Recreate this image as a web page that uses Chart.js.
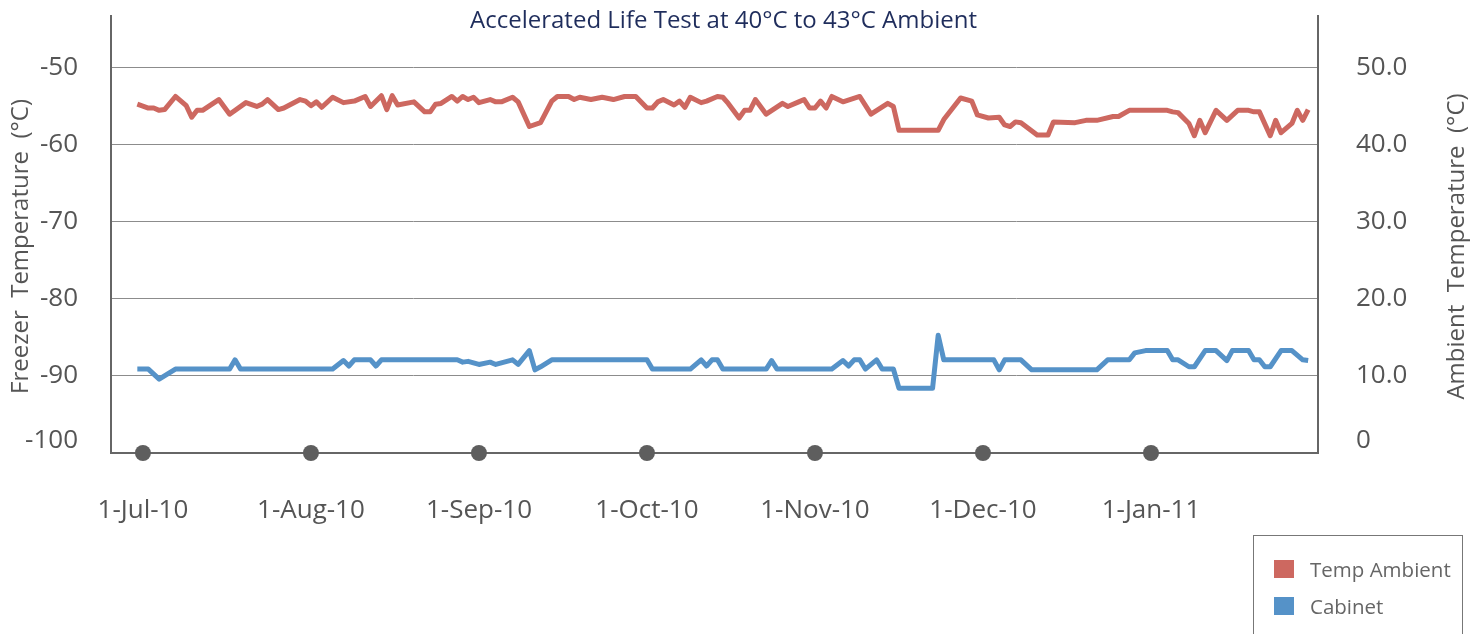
<!DOCTYPE html>
<html>
<head>
<meta charset="utf-8">
<script src="https://cdn.jsdelivr.net/npm/chart.js@4.4.1/dist/chart.umd.min.js"></script>
<style>
  html, body { margin: 0; padding: 0; background: #fff; }
  #wrap { position: relative; width: 1481px; height: 634px; overflow: hidden; }
  #legend {
    position: absolute; left: 1253px; top: 535px; width: 210px; height: 120px;
    border: 1px solid #777; box-sizing: border-box;
    font-family: 'Open Sans', sans-serif; font-size: 20.5px; color: #666;
  }
  #legend .item { position: absolute; left: 20px; display: flex; align-items: center; height: 24px; }
  #legend .sw { width: 20px; height: 18px; margin-right: 16px; }
</style>
</head>
<body>
<div id="wrap">
  <canvas id="chart" width="1481" height="634"></canvas>
  <div id="legend"></div>
</div>
<script>
// x axis: one tick per month, months drawn evenly spaced
var monthLabels = ['1-Jul-10', '1-Aug-10', '1-Sep-10', '1-Oct-10', '1-Nov-10', '1-Dec-10', '1-Jan-11'];
var monthStartDays = [0, 31, 62, 92, 123, 153, 184, 215];

var chartTitle = 'Accelerated Life Test at 40°C to 43°C Ambient';
var leftTitle = 'Freezer  Temperature  (°C)';
var rightTitle = 'Ambient  Temperature  (°C)';

var leftTicks = [-100, -90, -80, -70, -60, -50];
var rightTicks = [0, 10, 20, 30, 40, 50];

// days since 1-Jul-10
var ambientDays = [-1, 1, 2, 3, 4, 6, 8, 9, 10, 11, 14, 16, 19, 21, 22, 23, 25, 26, 29, 30,
	31, 32, 33, 35, 37, 39, 41, 42, 44, 45, 46, 47, 50, 52, 53, 54, 55, 57, 58, 59,
	60, 61, 62, 64, 65, 66, 68, 69, 71, 73, 75, 76, 78, 79, 80, 82, 84, 86, 88, 90,
	92, 93, 94, 95, 97, 98, 99, 100, 102, 103, 105, 106, 107, 109, 110, 111, 112, 114, 117, 118,
	120, 121, 122, 123, 124, 125, 126, 128, 131, 133, 136, 137, 138, 145, 146, 149, 151, 152, 154, 156,
	157, 158, 159, 160, 163, 165, 166, 170, 172, 174, 177, 178, 180, 187, 188, 189, 191, 192, 193, 194,
	196, 198, 200, 202, 203, 204, 206, 207, 208, 210, 211, 212, 213];
var ambientTemp = [45.3, 44.8, 44.8, 44.5, 44.6, 46.3, 45.1, 43.6, 44.5, 44.5, 45.9, 44.0, 45.5, 45.0, 45.3, 45.9, 44.6, 44.8, 45.9, 45.7,
	45.1, 45.6, 44.9, 46.2, 45.5, 45.7, 46.3, 45.0, 46.4, 44.6, 46.4, 45.2, 45.6, 44.3, 44.3, 45.3, 45.4, 46.3, 45.7, 46.3,
	45.9, 46.2, 45.5, 45.9, 45.6, 45.6, 46.2, 45.6, 42.4, 42.9, 45.7, 46.3, 46.3, 45.9, 46.2, 45.9, 46.2, 45.9, 46.3, 46.3,
	44.8, 44.8, 45.6, 45.9, 45.2, 45.7, 44.9, 46.2, 45.5, 45.7, 46.3, 46.2, 45.4, 43.5, 44.5, 44.5, 45.9, 44.0, 45.4, 45.0,
	45.6, 45.9, 44.8, 44.8, 45.7, 44.8, 46.3, 45.6, 46.3, 44.0, 45.4, 45.0, 41.9, 41.9, 43.3, 46.1, 45.7, 43.9, 43.5, 43.6,
	42.6, 42.4, 43.0, 42.9, 41.3, 41.3, 43.0, 42.9, 43.2, 43.2, 43.7, 43.7, 44.5, 44.5, 44.3, 44.2, 42.8, 41.2, 43.2, 41.6,
	44.5, 43.2, 44.5, 44.5, 44.3, 44.3, 41.2, 43.2, 41.6, 42.8, 44.5, 43.2, 44.6];

var cabinetDays = [-1, 1, 3, 6, 16, 17, 18, 35, 37, 38, 39, 42, 43, 44, 58, 59, 60, 62, 64, 65,
	68, 69, 71, 72, 73, 75, 92, 93, 100, 102, 103, 104, 105, 106, 114, 115, 116, 126, 128, 129,
	130, 131, 132, 134, 135, 137, 138, 144, 145, 146, 155, 156, 157, 160, 162, 174, 176, 180, 181, 183,
	187, 188, 189, 191, 192, 194, 196, 198, 199, 202, 203, 204, 205, 206, 208, 210, 212, 213];
var cabinetTemp = [-89.1, -89.1, -90.4, -89.1, -89.1, -87.9, -89.1, -89.1, -88.0, -88.7, -87.9, -87.9, -88.7, -87.9, -87.9, -88.2, -88.1, -88.5, -88.2, -88.5,
	-87.9, -88.5, -86.7, -89.2, -88.8, -87.9, -87.9, -89.1, -89.1, -87.9, -88.7, -87.9, -87.9, -89.1, -89.1, -88.0, -89.1, -89.1, -88.0, -88.7,
	-87.9, -87.9, -89.1, -87.9, -89.1, -89.1, -91.6, -91.6, -84.7, -87.9, -87.9, -89.2, -87.9, -87.9, -89.2, -89.2, -87.9, -87.9, -87.0, -86.7,
	-86.7, -87.9, -87.9, -88.8, -88.8, -86.7, -86.7, -88.0, -86.7, -86.7, -87.9, -87.9, -88.8, -88.8, -86.7, -86.7, -87.9, -88.0];

// day offset -> month position (each month gets the same width)
function dayToPos(d) {
	if (d < 0) return d / 30;
	for (var k = 0; k < monthStartDays.length - 1; k++) {
		if (d < monthStartDays[k + 1]) {
			return k + (d - monthStartDays[k]) / (monthStartDays[k + 1] - monthStartDays[k]);
		}
	}
	return monthStartDays.length - 1;
}

function toPoints(days, vals) {
	return days.map(function (d, i) { return { x: dayToPos(d), y: vals[i] }; });
}

Chart.defaults.font.family = "'Open Sans', sans-serif";

var labelFont = { family: "'Open Sans', sans-serif", size: 26 };

var textPlugin = {
	id: 'texts',
	afterDraw: function (chart) {
		var ctx = chart.ctx, area = chart.chartArea;
		var midY = (area.top + area.bottom) / 2 + 12;
		ctx.save();
		ctx.textAlign = 'center';
		ctx.textBaseline = 'middle';
		ctx.font = "24px 'Open Sans', sans-serif";
		ctx.fillStyle = '#1f2d5c';
		ctx.fillText(chartTitle, (area.left + area.right) / 2 + 9, area.top + 5);

		ctx.font = "24px 'Open Sans', sans-serif";
		ctx.fillStyle = '#555';
		ctx.save();
		ctx.translate(area.left - 90, midY);
		ctx.rotate(-Math.PI / 2);
		ctx.fillText(leftTitle, 0, 0);
		ctx.restore();
		ctx.save();
		ctx.translate(area.right + 139, midY);
		ctx.rotate(-Math.PI / 2);
		ctx.fillText(rightTitle, 0, 0);
		ctx.restore();
		ctx.restore();
	}
};

function fixYWidth(w) {
	return function (s) {
		s.width = w;
		s.paddingTop = 0;
		s.paddingBottom = 0;
	};
}

var chart = new Chart(document.getElementById('chart').getContext('2d'), {
	type: 'line',
	data: {
		datasets: [{
			label: 'Temp Ambient',
			data: toPoints(ambientDays, ambientTemp),
			yAxisID: 'yR',
			borderColor: '#cd6860',
			backgroundColor: '#cd6860',
			borderWidth: 5,
			borderJoinStyle: 'round',
			pointRadius: 0
		}, {
			label: 'Cabinet',
			data: toPoints(cabinetDays, cabinetTemp),
			yAxisID: 'yL',
			borderColor: '#5592c8',
			backgroundColor: '#5592c8',
			borderWidth: 5,
			borderJoinStyle: 'round',
			pointRadius: 0
		}, {
			label: 'months',
			data: monthLabels.map(function (m, i) { return { x: i, y: leftTicks[0] }; }),
			yAxisID: 'yL',
			showLine: false,
			pointRadius: 8,
			pointBorderWidth: 0,
			pointBackgroundColor: '#5e5e5e',
			clip: false
		}]
	},
	options: {
		responsive: false,
		animation: false,
		layout: { padding: { top: 16 } },
		plugins: { legend: { display: false }, tooltip: { enabled: false } },
		scales: {
			x: {
				type: 'linear',
				min: -0.19,
				max: 6.994,
				afterBuildTicks: function (s) {
					s.ticks = monthLabels.map(function (m, i) { return { value: i }; });
				},
				afterFit: function (s) { s.height = 181; },
				ticks: {
					callback: function (v) { return monthLabels[v]; },
					font: labelFont, color: '#555', padding: 42,
					maxRotation: 0, autoSkip: false
				},
				grid: { display: false, drawTicks: false },
				border: { color: '#666', width: 2 }
			},
			yL: {
				position: 'left',
				min: -100,
				max: -43.25,
				afterBuildTicks: function (s) {
					s.ticks = leftTicks.map(function (v) { return { value: v === leftTicks[0] ? v + 1.6 : v }; });
				},
				afterFit: fixYWidth(111),
				ticks: {
					callback: function (v) { return String(Math.round(v / 10) * 10); },
					font: labelFont, color: '#555', padding: 33
				},
				grid: {
					drawTicks: false,
					color: function (c) { return c.tick && c.tick.value < -95 ? 'rgba(0,0,0,0)' : '#8c8c8c'; }
				},
				border: { color: '#666', width: 2 }
			},
			yR: {
				position: 'right',
				min: 0,
				max: 56.75,
				afterBuildTicks: function (s) {
					s.ticks = rightTicks.map(function (v) { return { value: v === 0 ? v + 1.6 : v }; });
				},
				afterFit: fixYWidth(163),
				ticks: {
					callback: function (v) { var r = Math.round(v / 10) * 10; return r === 0 ? '0' : r.toFixed(1); },
					font: labelFont, color: '#555', padding: 38
				},
				grid: { drawOnChartArea: false, drawTicks: false },
				border: { color: '#666', width: 2 }
			}
		}
	},
	plugins: [textPlugin]
});

// legend box (first two series only)
var legendEl = document.getElementById('legend');
chart.data.datasets.slice(0, 2).forEach(function (ds, i) {
	var item = document.createElement('div');
	item.className = 'item';
	item.style.top = (21 + i * 37) + 'px';
	item.innerHTML = '<span class="sw" style="background:' + ds.borderColor + '"></span>' + ds.label;
	legendEl.appendChild(item);
});
</script>
</body>
</html>
